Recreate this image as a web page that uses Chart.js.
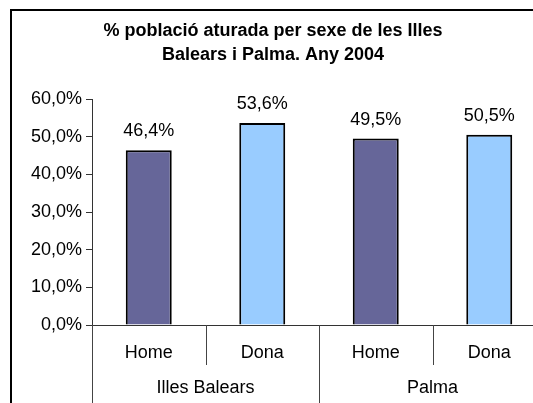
<!DOCTYPE html>
<html><head><meta charset="utf-8">
<script src="https://cdn.jsdelivr.net/npm/chart.js@4/dist/chart.umd.min.js"></script>
<style>
html,body{margin:0;padding:0;overflow:hidden;background:#fff;width:533px;height:403px}
#frame{position:absolute;left:10px;top:9px;width:560px;height:420px;border:2px solid #000;}
#wrap{position:absolute;left:0;top:0;width:560px;height:420px}
</style></head>
<body><div id="frame"><div id="wrap"><canvas id="c" width="560" height="420"></canvas></div></div>
<script>
const titleLines = ['% població aturada per sexe de les Illes', 'Balears i Palma. Any 2004'];
const categories = ['Home', 'Dona', 'Home', 'Dona'];
const groups = ['Illes Balears', 'Illes Balears', 'Palma', 'Palma'];
const values = [46.4, 53.6, 49.5, 50.5];
const barColors = ['#666699', '#99CCFF', '#666699', '#99CCFF'];
const yTicks = [0, 10, 20, 30, 40, 50, 60];

const FONT = '"Liberation Sans", Arial, sans-serif';
const fmt = v => v.toFixed(1).replace('.', ',') + '%';

const extras = {
  id: 'extras',
  afterDraw(chart) {
    const ctx = chart.ctx;
    const xs = chart.scales.x;
    const top = chart.chartArea.bottom;
    ctx.save();
    ctx.fillStyle = '#000';
    ctx.font = 'bold 18px ' + FONT;
    ctx.textAlign = 'center';
    ctx.textBaseline = 'middle';
    titleLines.forEach((t, i) => ctx.fillText(t, 261, 20 + i * 24));
    ctx.font = '18px ' + FONT;
    const meta = chart.getDatasetMeta(0);
    meta.data.forEach((bar, i) => {
      ctx.fillText(fmt(values[i]), bar.x, bar.y - 19);
    });
    const n = categories.length;
    const step = xs.getPixelForValue(1) - xs.getPixelForValue(0);
    ctx.strokeStyle = '#444';
    ctx.lineWidth = 1;
    for (let i = 0; i <= n; i++) {
      const x = Math.round(xs.getPixelForValue(0) - step / 2 + i * step) + 0.5;
      const isGroup = i === 0 || i === n || groups[i] !== groups[i - 1];
      ctx.beginPath();
      ctx.moveTo(x, top);
      ctx.lineTo(x, isGroup ? chart.height : top + 40);
      ctx.stroke();
    }
    ctx.font = '18px ' + FONT;
    ctx.fillStyle = '#000';
    let s = 0;
    for (let i = 1; i <= n; i++) {
      if (i === n || groups[i] !== groups[s]) {
        const cx = (xs.getPixelForValue(s) + xs.getPixelForValue(i - 1)) / 2;
        ctx.fillText(groups[s], cx, 377);
        s = i;
      }
    }
    ctx.restore();
  }
};

new Chart(document.getElementById('c'), {
  type: 'bar',
  data: {
    labels: categories,
    datasets: [{
      data: values,
      backgroundColor: barColors,
      borderColor: '#000',
      borderWidth: 2,
      barPercentage: 0.405,
      categoryPercentage: 1.0
    }]
  },
  options: {
    responsive: false,
    animation: false,
    devicePixelRatio: 1,
    layout: { padding: { top: 88, right: 26, left: 0, bottom: 0 } },
    plugins: { legend: { display: false }, title: { display: false }, tooltip: { enabled: false } },
    scales: {
      x: {
        grid: { display: false },
        border: { display: true, color: '#333', width: 1 },
        ticks: { color: '#000', font: { family: FONT, size: 18 }, padding: 9, maxRotation: 0 },
        afterFit(scale) { scale.height = 106; }
      },
      y: {
        min: 0, max: 60,
        afterBuildTicks(scale) { scale.ticks = yTicks.map(v => ({ value: v })); },
        grid: { drawOnChartArea: false, drawTicks: true, tickLength: 6, color: '#333' },
        border: { display: true, color: '#333', width: 1 },
        ticks: { color: '#000', font: { family: FONT, size: 18 }, padding: 4, callback: v => fmt(v) },
        afterFit(scale) { scale.width = 80; }
      }
    }
  },
  plugins: [extras]
});
</script>
</body></html>
